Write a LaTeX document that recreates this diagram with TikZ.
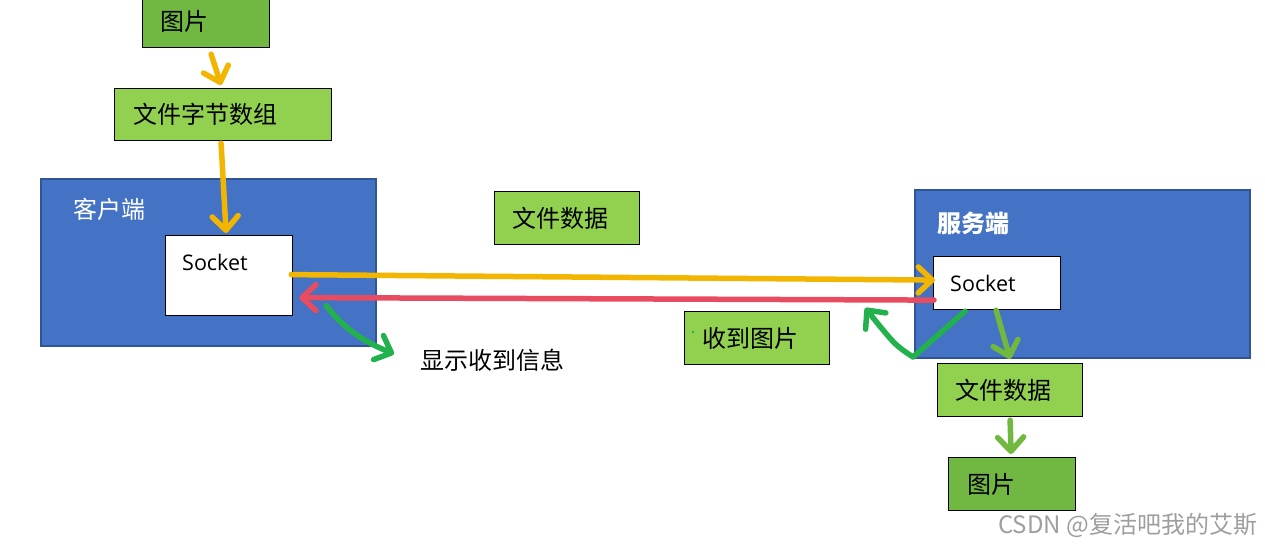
\documentclass[tikz,border=0pt]{standalone}
\usepackage{fontspec}
\setmainfont{Open Sans}
\newfontfamily\cjk{Noto Sans CJK SC}
\usetikzlibrary{arrows.meta,calc}
\definecolor{boxblue}{HTML}{4472C4}
\definecolor{boxblueedge}{HTML}{2F5597}
\definecolor{lgreen}{HTML}{92D050}
\definecolor{dgreen}{HTML}{71B843}
\definecolor{ayellow}{HTML}{F2B600}
\definecolor{ared}{HTML}{E84C61}
\definecolor{agreen}{HTML}{22B14C}
\definecolor{alight}{HTML}{70B83E}
\begin{document}
\begin{tikzpicture}[x=1pt,y=-1pt,
  gbox/.style={draw=black, line width=1.2pt, fill=lgreen, anchor=north west,
     minimum height=53, inner xsep=18, align=left, font=\cjk\fontsize{24}{27}\selectfont},
  blubox/.style={draw=boxblueedge, fill=boxblue, line width=1.5pt, anchor=north west},
  sockbox/.style={draw=black, fill=white, line width=1.2pt, anchor=north west},
  lbl/.style={anchor=west, inner sep=0pt},
  cjklbl/.style={lbl, font=\cjk\fontsize{24}{27}\selectfont},
  socklbl/.style={lbl, font=\fontsize{21.5}{25}\selectfont},
  arr/.style={line width=5.5pt, line cap=round, line join=round,
     -{Straight Barb[length=14pt, width=26pt, round]}}
]
\useasboundingbox (0,0) rectangle (1265,546);

% blue containers
\node[blubox, minimum width=335, minimum height=167] (client) at (40,178) {};
\node[blubox, minimum width=335, minimum height=168] (server) at (914,189) {};
\node[lbl, text=white, font=\cjk\fontsize{24}{27}\selectfont] (clientlbl) at (73,209) {客户端};
\node[lbl, text=white, font=\cjk\bfseries\fontsize{24}{27}\selectfont] (serverlbl) at (937,223) {服务端};

% sockets
\node[sockbox, minimum width=127, minimum height=80] (csock) at (165,235) {};
\node[socklbl] (csocklbl) at (182,262) {Socket};
\node[sockbox, minimum width=127, minimum height=53] (ssock) at (933,256) {};
\node[socklbl] (ssocklbl) at (950,283) {Socket};

% green boxes
\node[gbox, fill=dgreen, minimum width=127, minimum height=52, text width=91] (pic1) at (142,-5) {图片};
\node[gbox, minimum width=215, minimum height=52, text width=179, inner xsep=19] (bytes) at (114,88) {文件字节数组};
\node[gbox, minimum width=145, text width=109] (middata) at (494,191) {文件数据};
\node[gbox, minimum width=145, text width=109] (recv) at (684,311) {收到图片};
\node[gbox, minimum width=145, text width=109] (sdata) at (937,363) {文件数据};
\node[gbox, fill=dgreen, minimum width=127, text width=89, inner xsep=19] (pic2) at (948,457) {图片};
\fill[agreen] (693,332) circle (1.3);

\node[cjklbl] (show) at (420,360) {显示收到信息};

% arrows
\draw[arr, ayellow] ($(pic1.south)+(5,6)$) -- ($(bytes.north)+(-2,-3)$);
\draw[arr, ayellow] ($(bytes.south)+(-2,2)$) -- ($(csock.north)+(-3,-2)$);
\draw[arr, ayellow] ($(csock.east)+(-2,-1)$) -- ($(ssock.west)+(2,-3)$);
\draw[arr, ared] ($(ssock.west)+(1,17)$) -- ($(csock.east)+(6,22)$);
\draw[arr, agreen] ($(csock.east)+(33,30)$) .. controls (345,330) and (365,342) .. ($(show.west)+(-26,-6)$);
\draw[arr, agreen] ($(ssock.south)+(-32,1)$) -- (913,357) .. controls (895,345) .. ($(recv.north east)+(35,-3)$);
\draw[arr, alight] ($(ssock.south)+(-1,0)$) -- ($(sdata.north)+(0,-4)$);
\draw[arr, alight] ($(sdata.south)+(0,3)$) -- ($(pic2.north)+(-1,-3)$);

\node[lbl, text=black!38, font=\cjk\fontsize{24}{27}\selectfont] (wm) at (998,525) {CSDN @复活吧我的艾斯};
\end{tikzpicture}
\end{document}
